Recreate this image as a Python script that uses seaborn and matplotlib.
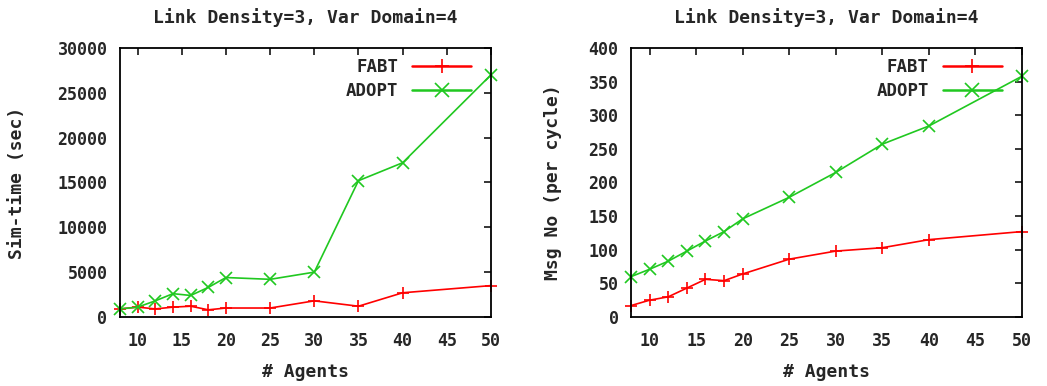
import numpy as np
import pandas as pd
import seaborn as sns
from matplotlib import pyplot as plt

agents = [8, 10, 12, 14, 16, 18, 20, 25, 30, 35, 40, 50]

# left panel: simulated time (sec)
fabt_time = [900, 1100, 900, 1100, 1200, 800, 1000, 1000, 1800, 1200, 2700, 3500]
adopt_time = [900, 1100, 1800, 2600, 2400, 3300, 4400, 4200, 5000, 15200, 17200, 27000]

# right panel: messages per cycle
fabt_msg = [17, 25, 30, 43, 56, 54, 64, 86, 98, 103, 115, 127]
adopt_msg = [60, 71, 83, 98, 113, 127, 146, 178, 215, 257, 284, 358]

title = "Link Density=3, Var Domain=4"
colors = {"FABT": "#ff0000", "ADOPT": "#20c820"}


def long_df(fabt, adopt):
    return pd.DataFrame({
        "agents": agents * 2,
        "value": fabt + adopt,
        "algo": ["FABT"] * len(agents) + ["ADOPT"] * len(agents),
    })


def draw_panel(ax, df, ylabel, ymax, ystep, ylabel_x):
    sns.lineplot(data=df, x="agents", y="value", hue="algo", style="algo",
                 palette=colors, markers={"FABT": "+", "ADOPT": "x"},
                 dashes=False, markersize=8.5, markeredgewidth=1.2,
                 linewidth=1.2, ax=ax, clip_on=False)
    # seaborn paints marker edges white; line markers need the line colour
    for ln in ax.lines:
        ln.set_markeredgecolor(ln.get_color())
    ax.set_xlim(8, 50)
    ax.set_ylim(0, ymax)
    ax.set_xticks(range(10, 51, 5))
    ax.set_yticks(np.arange(0, ymax + 1, ystep))
    ax.tick_params(direction="in", length=5, width=1.3, top=True, right=True,
                   labelsize=12)
    ax.tick_params(axis="x", pad=11)
    ax.tick_params(axis="y", pad=9)
    for lbl in ax.get_xticklabels() + ax.get_yticklabels():
        lbl.set_fontweight("bold")
    for sp in ax.spines.values():
        sp.set_linewidth(1.3)
        sp.set_color("black")
    ax.set_title(title, fontsize=13, fontweight="bold", pad=18)
    ax.set_xlabel("# Agents", fontsize=13, fontweight="bold")
    ax.set_ylabel(ylabel, fontsize=13, fontweight="bold")
    ax.xaxis.set_label_coords(0.5, -0.205)
    ax.yaxis.set_label_coords(ylabel_x, 0.5)
    ax.xaxis.label.set_va("center")
    ax.yaxis.label.set_va("center")
    leg = ax.legend(loc="upper right", frameon=False, markerfirst=False,
                    handlelength=3.4, fontsize=12.5, borderaxespad=0.6,
                    borderpad=0.0, labelspacing=0.3, handletextpad=0.8,
                    bbox_to_anchor=(0.975, 1.0))
    for t in leg.get_texts():
        t.set_fontweight("bold")
    for h in leg.legend_handles:
        h.set_markeredgecolor(h.get_color())
        h.set_markersize(10)
        h.set_linewidth(1.8)


def main():
    sns.set_style("white")
    plt.rcParams["font.family"] = ["DejaVu Sans Mono", "DejaVu Sans"]
    fig = plt.figure(figsize=(10.47, 3.86), dpi=100)
    ax1 = fig.add_axes([0.1146, 0.1788, 0.3543, 0.6969])
    ax2 = fig.add_axes([0.6027, 0.1788, 0.3734, 0.6969])
    draw_panel(ax1, long_df(fabt_time, adopt_time), "Sim-time (sec)",
               30000, 5000, -0.278)
    draw_panel(ax2, long_df(fabt_msg, adopt_msg), "Msg No (per cycle)",
               400, 50, -0.2)
    fig.savefig("out.png", dpi=100)


if __name__ == '__main__':
    main()
